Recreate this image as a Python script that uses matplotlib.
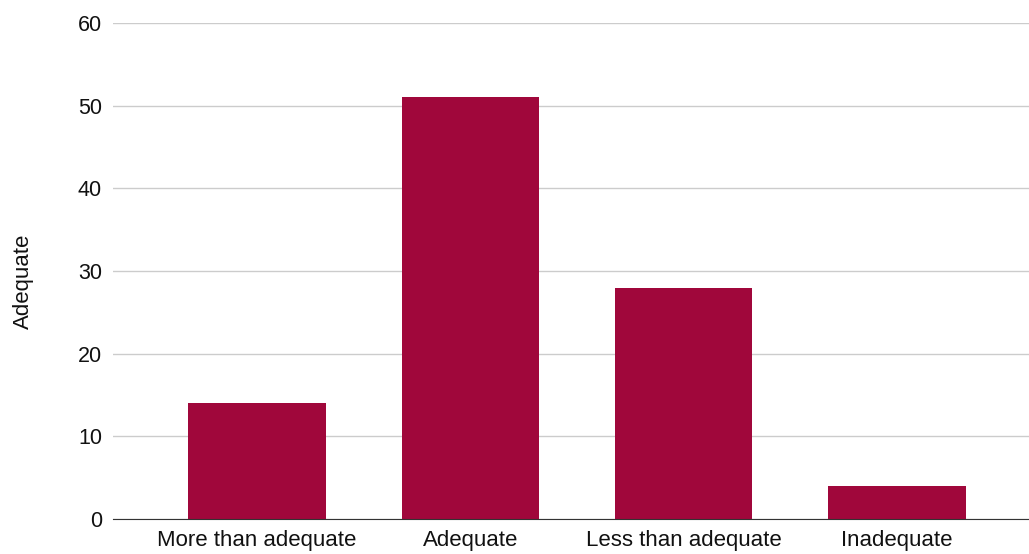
#!/usr/bin/env python3
"""
Bar chart of adequacy ratings
"""
import numpy as np
import matplotlib.pyplot as plt

categories = ['More than adequate', 'Adequate', 'Less than adequate', 'Inadequate']
counts = [14, 51, 28, 4]
y_ticks = [0, 10, 20, 30, 40, 50, 60]

plt.rcParams['font.family'] = ['Liberation Sans', 'DejaVu Sans']

fig = plt.figure(figsize=(10.29, 5.54), dpi=100)
ax = fig.add_axes([113 / 1029, 35 / 554, 916 / 1029, 496 / 554])

x = np.arange(len(categories))
ax.bar(x, counts, width=0.645, color='#a0073b', zorder=3)

ax.set_xlim(-0.676, 3.62)
ax.set_ylim(0, 60)
ax.set_yticks(y_ticks)
ax.set_xticks(x, categories)

# light horizontal grid, dark baseline only
ax.grid(axis='y', color='#cccccc', linewidth=1, zorder=0)
for side in ['top', 'right', 'left']:
    ax.spines[side].set_visible(False)
ax.spines['bottom'].set_color('#333333')
ax.spines['bottom'].set_zorder(4)

ax.tick_params(axis='y', length=0, pad=8, labelsize=15.5, labelcolor='#111111')
ax.tick_params(axis='x', length=0, pad=8, labelsize=16, labelcolor='#111111')
ax.set_ylabel('Adequate', fontsize=16, color='#111111')
ax.yaxis.set_label_coords(-0.086, 0.479)

fig.savefig('out.png', dpi=100)
